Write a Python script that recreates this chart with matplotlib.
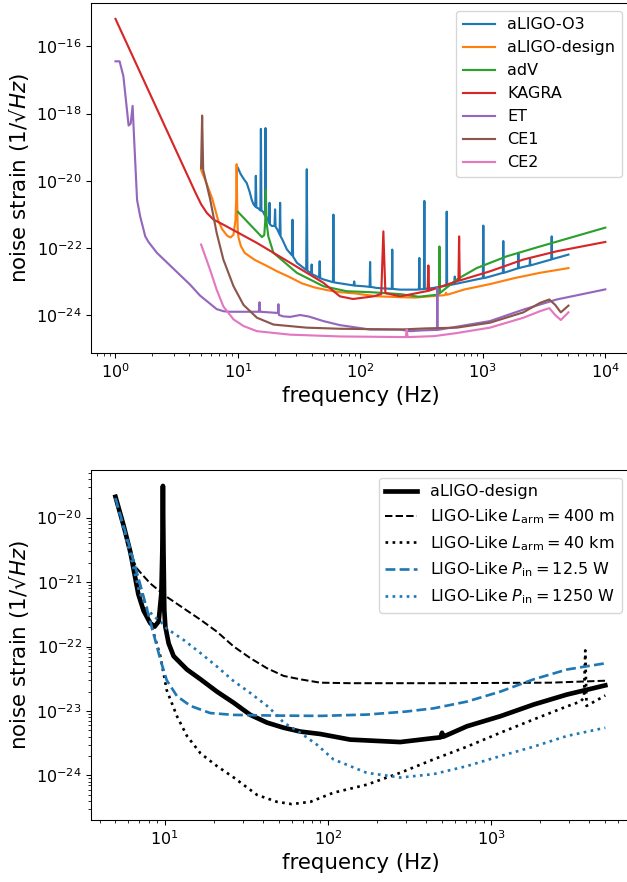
import matplotlib
matplotlib.use("Agg")
import matplotlib.pyplot as plt

# ---------------- top panel data ----------------
o3_f = [10, 10.5, 11.2, 11.8, 12.5, 13.0, 13.4, 13.85, 14.0, 14.15, 14.7, 15.25, 15.4, 15.55,
        16.0, 16.65, 16.8, 16.95, 17.2, 18.0, 18.1, 18.25, 18.9, 19.9, 20.1, 20.3, 21.0,
        21.9, 22.1, 22.3, 23.0, 25.1, 27.6, 27.9, 28.2, 30.3, 33.2, 36.1, 36.5, 36.9, 38.8,
        39.7, 40.0, 40.3, 46.0, 46.5, 47.0, 49.9, 59.7, 60.2, 60.7, 64.1, 88, 89, 90, 106,
        119, 120, 121, 136, 180.5, 182, 183.5, 211, 289, 300.5, 303, 305.5, 330, 333, 336,
        394, 503, 507, 511, 585, 590, 595, 891, 1000, 1009, 1018, 1143, 1456, 1469, 1482,
        1890, 1935, 1950, 1965, 2410, 2427, 2445, 3620, 3650, 3680, 5000]
o3_v = [2.4e-20, 1.6e-20, 1.1e-20, 8.5e-21, 4.5e-21, 2.6e-21, 2.0e-21, 1.7e-21, 1.4e-20,
        1.6e-21, 1.5e-21, 1.3e-21, 3.5e-19, 1.3e-21, 1.2e-21, 9e-22, 3.7e-19, 9e-22, 8e-22,
        5.5e-22, 2.2e-21, 5e-22, 4.5e-22, 4.5e-22, 1.4e-21, 4.2e-22, 3.5e-22, 2.5e-22,
        2.2e-21, 2.2e-22, 1.8e-22, 9e-23, 6e-23, 6.9e-22, 5.5e-23, 3.6e-23, 2.8e-23,
        2.2e-23, 2.2e-20, 2.1e-23, 1.8e-23, 1.7e-23, 3.2e-23, 1.65e-23, 1.3e-23, 4.0e-23,
        1.25e-23, 1.15e-23, 9.5e-24, 9.8e-22, 9.4e-24, 9.1e-24, 7.6e-24, 1.0e-23, 7.5e-24,
        7.2e-24, 6.9e-24, 3.8e-23, 6.9e-24, 6.4e-24, 6.0e-24, 8.9e-23, 6.0e-24, 5.7e-24,
        5.7e-24, 5.8e-24, 5e-23, 5.8e-24, 5.9e-24, 2.5e-21, 6e-24, 6.4e-24, 7.5e-24,
        1.2e-21, 7.5e-24, 8.3e-24, 1.4e-23, 8.4e-24, 1.15e-23, 1.25e-23, 4.6e-22, 1.25e-23,
        1.4e-23, 1.8e-23, 1.6e-22, 1.8e-23, 2.4e-23, 2.45e-23, 7.1e-23, 2.5e-23, 3e-23,
        5e-23, 3e-23, 4.5e-23, 2.2e-22, 4.6e-23, 6.3e-23]

design_f = [5, 5.6, 6.17, 6.9, 7.43, 8.17, 8.69, 9.19, 9.55, 9.68, 9.76, 9.84, 9.95, 10.1,
            10.58, 11.35, 13.7, 16.6, 20.9, 26.5, 33.5, 42.4, 53.6, 67.8, 89.8, 137, 277,
            444, 490, 500, 510, 711, 1138, 1820, 2912, 5000]
design_v = [2.1e-20, 7.6e-21, 2.9e-21, 6.5e-22, 3.6e-22, 2.3e-22, 2.04e-22, 2.45e-22,
            6.7e-22, 3e-21, 3.1e-20, 3e-21, 3.7e-22, 2.04e-22, 1.12e-22, 7.1e-23, 4.4e-23,
            3.1e-23, 2.0e-23, 1.34e-23, 8.7e-24, 6.6e-24, 5.5e-24, 4.8e-24, 4.4e-24, 3.6e-24,
            3.3e-24, 3.8e-24, 3.9e-24, 4.6e-24, 4.0e-24, 5.8e-24, 8.3e-24, 1.26e-23, 1.8e-23,
            2.5e-23]

adv_f = [10, 15.7, 16.4, 16.7, 16.9, 17.1, 17.7, 19.5, 30.3, 49.9, 77.4, 120, 210, 300, 420,
         438, 442, 446, 612, 891, 1567, 2930, 10000]
adv_v = [1.18e-21, 2.1e-22, 2.4e-22, 6e-22, 5.4e-21, 6e-22, 2.2e-22, 7.1e-23, 1.8e-23,
         7.2e-24, 5.1e-24, 4.8e-24, 4.2e-24, 3.5e-24, 4.0e-24, 4.3e-24, 1.1e-22, 4.5e-24,
         1.14e-23, 2.5e-23, 5.6e-23, 1.1e-22, 4.0e-22]

kagra_f = [1, 4.5, 5.0, 5.57, 6.3, 7.61, 14.3, 26.7, 49.9, 68, 87, 128, 148, 154, 160, 211,
           255, 354, 359, 364, 448, 632, 640, 648, 1143, 2143, 4009, 10000]
kagra_v = [6.6e-16, 4.4e-21, 2.0e-21, 1.1e-21, 7e-22, 4.9e-22, 1.4e-22, 3.6e-23, 9.1e-24,
           3.6e-24, 3.0e-24, 3.6e-24, 4.2e-24, 3.1e-22, 4.5e-24, 3.6e-24, 4.1e-24, 5.2e-24,
           3.0e-23, 5.3e-24, 6.9e-24, 1.05e-23, 2.2e-22, 1.07e-23, 2.0e-23, 4.5e-23, 7.9e-23,
           1.5e-22]

et_f = [1, 1.08, 1.16, 1.24, 1.28, 1.33, 1.38, 1.41, 1.5, 1.59, 1.75, 1.86, 2.18, 4.07, 4.9,
        5.57, 6.7, 7.6, 8.5, 14.8, 15.0, 15.2, 21.2, 21.4, 21.6, 23.5, 26.7, 32.2, 38, 49.9,
        68, 120, 210, 254, 327, 422, 425, 428, 1143, 2143, 4009, 10000]
et_v = [3.6e-17, 3.6e-17, 1.3e-17, 1.3e-18, 4.4e-19, 5e-19, 1.7e-18, 3e-19, 2.7e-21, 8.7e-22,
        2.2e-22, 1.5e-22, 7.1e-23, 8e-24, 3.8e-24, 2.6e-24, 1.5e-24, 1.3e-24, 1.25e-24,
        1.25e-24, 2.4e-24, 1.25e-24, 1.15e-24, 2.1e-24, 1.0e-24, 9.1e-25, 8.8e-25, 1.0e-24,
        9e-25, 6.6e-25, 5.0e-25, 3.7e-25, 3.7e-25, 3.3e-25, 3.5e-25, 3.6e-25, 6.4e-24,
        3.6e-25, 6.6e-25, 1.45e-24, 2.9e-24, 5.8e-24]

ce1_f = [5.0, 5.1, 5.2, 5.93, 6.7, 7.6, 9.2, 11.1, 14.3, 19.5, 36.5, 68, 210, 348, 612, 1143,
         2143, 2930, 3490, 3900, 4330, 5000]
ce1_v = [2.4e-20, 8.7e-19, 2.1e-20, 2.8e-21, 2.8e-22, 4.5e-23, 7.2e-24, 2.0e-24, 8.3e-25,
         5.2e-25, 4.2e-25, 3.9e-25, 3.7e-25, 4.0e-25, 4.2e-25, 5.9e-25, 1.2e-24, 2.3e-24,
         2.9e-24, 2.0e-24, 1.2e-24, 1.9e-24]

ce2_f = [5, 5.93, 6.7, 7.6, 9.2, 11.1, 14.3, 26.7, 68, 235, 239, 243, 400, 612, 838, 1143,
         2143, 2930, 3490, 3900, 4330, 5000]
ce2_v = [1.26e-22, 2.2e-23, 5.7e-24, 1.8e-24, 7.4e-25, 4.7e-25, 3.3e-25, 2.6e-25, 2.3e-25,
         2.2e-25, 3.7e-25, 2.2e-25, 2.35e-25, 2.9e-25, 3.5e-25, 4.2e-25, 8.3e-25, 1.3e-24,
         1.6e-24, 1.0e-24, 7.1e-25, 1.2e-24]

top_labels = ["aLIGO-O3", "aLIGO-design", "adV", "KAGRA", "ET", "CE1", "CE2"]

# ---------------- bottom panel data ----------------
arm400_f = [5, 5.6, 6.0, 6.46, 6.8, 7.3, 8.17, 10.3, 13.1, 16.6, 20.9, 26.5, 33.5, 42.4, 53.6,
            67.8, 89.8, 137, 500, 2300, 5000]
arm400_v = [2.1e-20, 7.8e-21, 4e-21, 2.1e-21, 1.6e-21, 1.3e-21, 9.5e-22, 5.9e-22, 3.9e-22,
            2.6e-22, 1.7e-22, 1.0e-22, 6.6e-23, 4.6e-23, 3.5e-23, 3.1e-23, 2.75e-23, 2.7e-23,
            2.7e-23, 2.75e-23, 2.95e-23]

arm40k_f = [5, 6.2, 7.2, 8.4, 9.41, 10.3, 11.9, 13.7, 16.6, 20.9, 26.5, 36.8, 48.8, 60, 78,
            108, 173, 277, 444, 711, 1138, 1820, 2912, 3515, 3700, 3770, 3840, 5000]
arm40k_v = [2.0e-20, 3e-21, 7e-22, 1.9e-22, 7.1e-23, 2.1e-23, 8.3e-24, 4.1e-24, 2.2e-24,
            1.4e-24, 9.3e-25, 5.0e-25, 3.9e-25, 3.6e-25, 3.9e-25, 5.4e-25, 7.2e-25, 1.1e-24,
            1.78e-24, 2.8e-24, 4.6e-24, 7.4e-24, 1.18e-23, 1.4e-23, 1.6e-23, 8.7e-23, 1.2e-23,
            1.74e-23]

p12_f = [5, 5.89, 7.1, 8.17, 8.8, 9.41, 10.3, 11.9, 14.4, 19, 26.5, 46.5, 90, 173, 300, 444,
         711, 1138, 1820, 2912, 5000]
p12_v = [2.0e-20, 4.8e-21, 9e-22, 2.45e-22, 1.2e-22, 6.3e-23, 3.0e-23, 1.7e-23, 1.2e-23,
         9.3e-24, 8.7e-24, 8.5e-24, 8.4e-24, 8.8e-24, 9.8e-24, 1.1e-23, 1.4e-23, 2.0e-23,
         3.1e-23, 4.4e-23, 5.5e-23]

p1250_f = [5, 6.17, 7.0, 7.8, 8.5, 9.5, 10.3, 13.1, 16.6, 20.9, 26.5, 33.5, 42.4, 47.6, 53.6,
           67.8, 85.7, 108, 173, 277, 444, 711, 1138, 1820, 2912, 5000]
p1250_v = [2.0e-20, 2.6e-21, 7e-22, 3.9e-22, 3.0e-22, 2.4e-22, 1.9e-22, 1.26e-22, 7.9e-23,
           4.9e-23, 2.9e-23, 1.9e-23, 1.2e-23, 9.1e-24, 6.6e-24, 4.6e-24, 3.0e-24, 1.78e-24,
           1.1e-24, 9.3e-25, 1.05e-24, 1.4e-24, 2.0e-24, 2.8e-24, 4.1e-24, 5.5e-24]

bottom_labels = ["aLIGO-design",
                 r"LIGO-Like $L_{\rm arm} = 400$ m",
                 r"LIGO-Like $L_{\rm arm} = 40$ km",
                 r"LIGO-Like $P_{\rm in} = 12.5$ W",
                 r"LIGO-Like $P_{\rm in} = 1250$ W"]

xlabel = "frequency (Hz)"
ylabel = "noise strain $(1/\u221aHz)$"

# ---------------- plotting ----------------
plt.rcParams["font.family"] = ["DejaVu Sans"]
plt.rcParams["xtick.labelsize"] = 12
plt.rcParams["ytick.labelsize"] = 12
plt.rcParams["legend.fontsize"] = 12

fig = plt.figure(figsize=(627 / 96, 882 / 96), dpi=96)
ax1 = fig.add_axes([0.14514, 0.59977, 0.8593, 0.39683])
ax2 = fig.add_axes([0.14514, 0.070295, 0.8593, 0.39683])

top_data = [(o3_f, o3_v), (design_f, design_v), (adv_f, adv_v), (kagra_f, kagra_v),
            (et_f, et_v), (ce1_f, ce1_v), (ce2_f, ce2_v)]
for i, ((f, v), lab) in enumerate(zip(top_data, top_labels)):
    ax1.loglog(f, v, color=f"C{i}", lw=1.6, label=lab)
ax1.set_xlabel(xlabel, fontsize=16)
ax1.set_ylabel(ylabel, fontsize=16)
ax1.legend(loc="upper right")

ax2.loglog(design_f, design_v, color="black", lw=3.5, label=bottom_labels[0])
ax2.loglog(arm400_f, arm400_v, color="black", ls="--", lw=1.5, label=bottom_labels[1])
ax2.loglog(arm40k_f, arm40k_v, color="black", ls=":", lw=2, label=bottom_labels[2])
ax2.loglog(p12_f, p12_v, color="C0", ls="--", lw=2, label=bottom_labels[3])
ax2.loglog(p1250_f, p1250_v, color="C0", ls=":", lw=2, label=bottom_labels[4])
ax2.set_xlabel(xlabel, fontsize=16)
ax2.set_ylabel(ylabel, fontsize=16)
ax2.legend(loc="upper right")

fig.savefig("out.png", dpi=96)
